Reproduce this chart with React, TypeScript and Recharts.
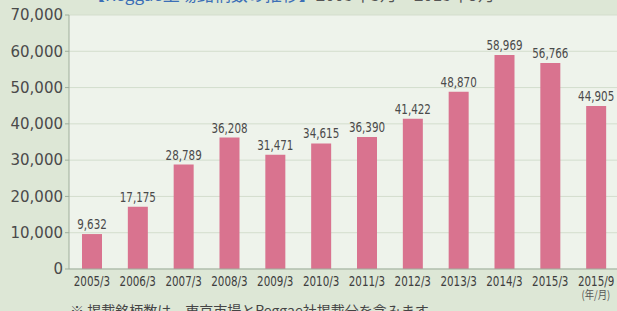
import React from 'react';
import { BarChart, Bar, XAxis, YAxis, CartesianGrid, LabelList } from 'recharts';

const periods = ['2005/3', '2006/3', '2007/3', '2008/3', '2009/3', '2010/3', '2011/3', '2012/3', '2013/3', '2014/3', '2015/3', '2015/9'];
const listings = [9632, 17175, 28789, 36208, 31471, 34615, 36390, 41422, 48870, 58969, 56766, 44905];
const yTicks = [0, 10000, 20000, 30000, 40000, 50000, 60000, 70000];

const data = periods.map((p, i) => ({ period: p, value: listings[i] }));

const fmt = (v: number) => v.toLocaleString('en-US');

const SANS = "'DejaVu Sans', sans-serif";

// condensed look: squeeze the text horizontally around its anchor point
const PeriodTick = (props: any) => {
  const { x, y, payload } = props;
  return (
    <g transform={`translate(${x},${y}) scale(0.74,1)`}>
      <text x={0} y={0} dy={11} textAnchor="middle" fill="#3e3e3e" fontSize={14} fontFamily={SANS}>
        {payload.value}
      </text>
    </g>
  );
};

const ValueLabel = (props: any) => {
  const { x, y, width, value } = props;
  const cx = Number(x) + Number(width) / 2;
  return (
    <g transform={`translate(${cx},${Number(y) - 5}) scale(0.74,1)`}>
      <text x={0} y={0} textAnchor="middle" fill="#4a4a4a" fontSize={14} fontFamily={SANS}>
        {fmt(Number(value))}
      </text>
    </g>
  );
};

const App: React.FC = () => {
  return (
    <div style={{ position: 'relative', width: 617, height: 311, background: '#dde7d6', overflow: 'hidden', fontFamily: "'Noto Sans CJK JP', 'DejaVu Sans', sans-serif" }}>
      <style>{'body{margin:0}'}</style>
      <div style={{ position: 'absolute', left: 22, top: -18, fontSize: 14, color: '#444' }}>（銘柄）</div>
      <div style={{ position: 'absolute', left: 88, top: -19, fontSize: 17, whiteSpace: 'nowrap' }}>
        <span style={{ color: '#3c6fb6' }}>【Reggae上場銘柄数の推移】</span>
        <span style={{ color: '#555' }}>2005年3月～2015年9月</span>
      </div>
      <BarChart width={617} height={311} data={data} margin={{ top: 15, right: -2, left: 0, bottom: 0 }} barSize={20}>
        <CartesianGrid vertical={false} stroke="#d3ddcd" fill="#eef3eb" />
        <XAxis
          dataKey="period"
          interval={0}
          tickLine={false}
          axisLine={{ stroke: '#9fae9c' }}
          tick={<PeriodTick />}
          tickMargin={0}
          height={42}
        />
        <YAxis
          ticks={yTicks}
          domain={[0, 70000]}
          tickFormatter={fmt}
          width={69}
          tickSize={4}
          tickLine={{ stroke: '#9fae9c' }}
          axisLine={{ stroke: '#9fae9c' }}
          tick={{ fill: '#4a4a4a', fontSize: 15, fontFamily: SANS }}
        />
        <Bar dataKey="value" fill="#d9738f" isAnimationActive={false}>
          <LabelList dataKey="value" content={<ValueLabel />} />
        </Bar>
      </BarChart>
      <div style={{ position: 'absolute', right: 4, top: 289, fontSize: 11, lineHeight: '11px', color: '#555', transform: 'scaleX(0.85)' }}>(年/月)</div>
      <div style={{ position: 'absolute', left: 70, top: 300, fontSize: 14, color: '#444', whiteSpace: 'nowrap' }}>
        ※ 掲載銘柄数は、東京市場とReggae社掲載分を含みます。
      </div>
    </div>
  );
};

export default App;
